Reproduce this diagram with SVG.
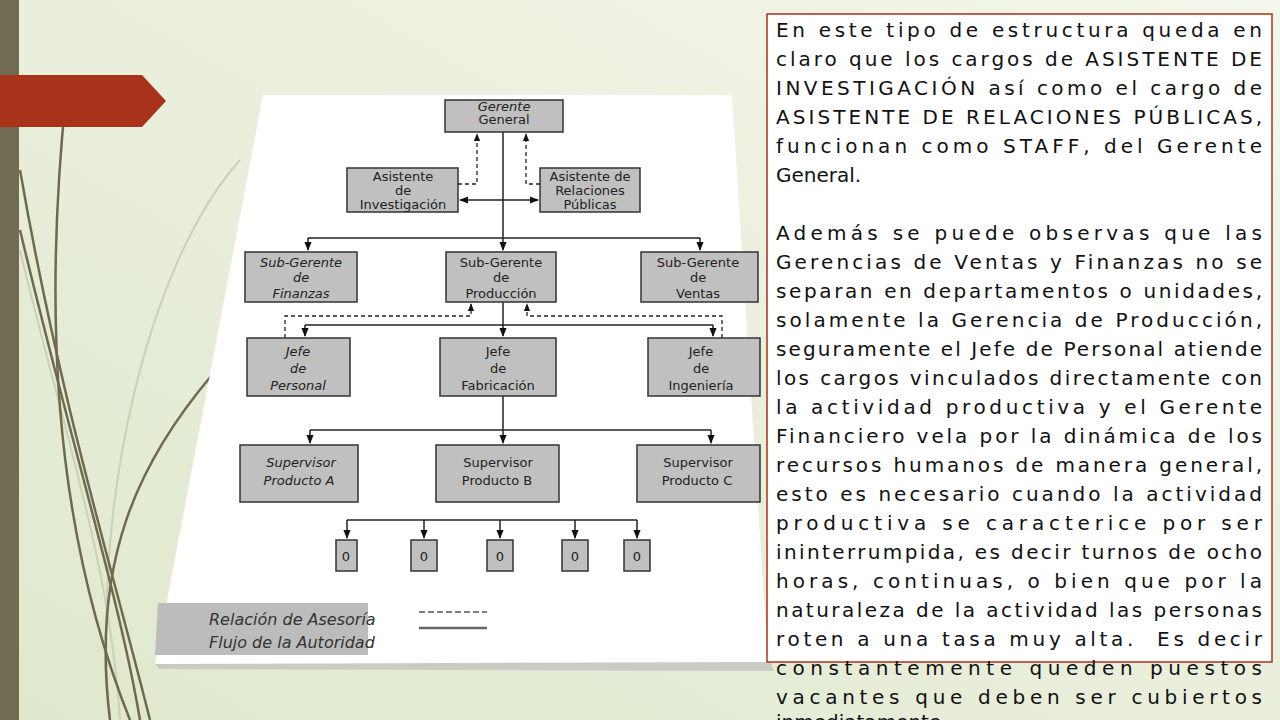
<svg xmlns="http://www.w3.org/2000/svg" width="1280" height="720" viewBox="0 0 1280 720">
<defs>
<linearGradient id="bg" x1="0" y1="1" x2="1" y2="0">
<stop offset="0" stop-color="#dfe8cc"/><stop offset="1" stop-color="#f3f6ea"/>
</linearGradient>
<marker id="ah" viewBox="0 0 10 10" refX="9" refY="5" markerWidth="6" markerHeight="6" orient="auto-start-reverse"><path d="M0,1 L10,5 L0,9 Z" fill="#111"/></marker>
<style>
.n{fill:#c0c0c0;stroke:#333;stroke-width:1.5}
.t{font-family:"DejaVu Sans",sans-serif;font-size:13px;fill:#222;text-anchor:middle}
.i{font-style:italic}
.c{fill:none;stroke:#222;stroke-width:1.5}
.d{fill:none;stroke:#222;stroke-width:1.3;stroke-dasharray:4 3}
.p{font-family:"DejaVu Sans",sans-serif;font-size:20px;fill:#111}
.cv{fill:none;stroke:#6f6a4f;stroke-width:2.5}
.cl{fill:none;stroke:#c9d2b5;stroke-width:2}
</style>
</defs>
<rect width="1280" height="720" fill="url(#bg)"/>
<rect x="0" y="0" width="19" height="720" fill="#716b52"/>
<g id="curves">
<path class="cl" d="M20,250 C60,420 110,560 120,720"/>
<path class="cl" d="M240,160 C150,260 90,500 110,720"/>
<path class="cv" d="M66,95 C45,300 50,520 130,720"/>
<path class="cv" d="M20,170 C60,400 110,560 150,720"/>
<path class="cv" d="M20,230 C70,440 120,600 140,720"/>
<path class="cv" d="M212,375 C140,460 90,560 110,720"/>
</g>
<polygon points="0,75 142,75 166,101 142,127 0,127" fill="#a8321a"/>
<polygon points="159,669 774,671 770,660 155,663" fill="#b8b8b8" opacity="0.6"/>
<polygon points="263,95 732,95 768,662 155,664" fill="#ffffff"/>
<g id="connectors">
<path class="c" d="M503,132 V250" marker-end="url(#ah)"/>
<path class="c" d="M460,200 H538" marker-start="url(#ah)" marker-end="url(#ah)"/>
<path class="d" d="M458,184 H477 V134" marker-end="url(#ah)"/>
<path class="d" d="M540,184 H526 V134" marker-end="url(#ah)"/>
<path class="c" d="M308,238 H700"/>
<path class="c" d="M308,238 V250" marker-end="url(#ah)"/>
<path class="c" d="M700,238 V250" marker-end="url(#ah)"/>
<path class="c" d="M503,302 V336" marker-end="url(#ah)"/>
<path class="c" d="M305,325 H713"/>
<path class="c" d="M305,325 V336" marker-end="url(#ah)"/>
<path class="c" d="M713,325 V336" marker-end="url(#ah)"/>
<path class="d" d="M285,338 V316 H471 V304" marker-end="url(#ah)"/>
<path class="d" d="M722,338 V316 H527 V304" marker-end="url(#ah)"/>
<path class="c" d="M503,396 V443" marker-end="url(#ah)"/>
<path class="c" d="M310,430 H711"/>
<path class="c" d="M310,430 V443" marker-end="url(#ah)"/>
<path class="c" d="M711,430 V443" marker-end="url(#ah)"/>
<path class="c" d="M347,520 H637"/>
<path class="c" d="M347,520 V538" marker-end="url(#ah)"/>
<path class="c" d="M424,520 V538" marker-end="url(#ah)"/>
<path class="c" d="M500,520 V538" marker-end="url(#ah)"/>
<path class="c" d="M575,520 V538" marker-end="url(#ah)"/>
<path class="c" d="M637,520 V538" marker-end="url(#ah)"/>
</g>
<g id="gerente"><rect class="n" x="445" y="100" width="118" height="32"/><text class="t i" x="504" y="111" font-size="10">Gerente</text><text class="t" x="504" y="124" font-size="11.5">General</text></g>
<g id="asist-inv"><rect class="n" x="347" y="168" width="111" height="44"/><text class="t" x="403" y="181" font-size="11.5">Asistente</text><text class="t" x="403" y="195" font-size="11.5">de</text><text class="t" x="403" y="209" font-size="11.5">Investigación</text></g>
<g id="asist-rp"><rect class="n" x="540" y="168" width="100" height="44"/><text class="t" x="590" y="181" font-size="11.5">Asistente de</text><text class="t" x="590" y="195" font-size="11.5">Relaciones</text><text class="t" x="590" y="209" font-size="11.5">Públicas</text></g>
<g id="sg-fin"><rect class="n" x="245" y="252" width="112" height="50"/><text class="t i" x="301" y="267">Sub-Gerente</text><text class="t i" x="301" y="282">de</text><text class="t i" x="301" y="298">Finanzas</text></g>
<g id="sg-prod"><rect class="n" x="446" y="252" width="110" height="50"/><text class="t" x="501" y="267">Sub-Gerente</text><text class="t" x="501" y="282">de</text><text class="t" x="501" y="298">Producción</text></g>
<g id="sg-ven"><rect class="n" x="641" y="252" width="117" height="50"/><text class="t" x="698" y="267">Sub-Gerente</text><text class="t" x="698" y="282">de</text><text class="t" x="698" y="298">Ventas</text></g>
<g id="j-per"><rect class="n" x="247" y="338" width="103" height="58"/><text class="t i" x="298" y="356">Jefe</text><text class="t i" x="298" y="373">de</text><text class="t i" x="298" y="390">Personal</text></g>
<g id="j-fab"><rect class="n" x="440" y="338" width="116" height="58"/><text class="t" x="498" y="356">Jefe</text><text class="t" x="498" y="373">de</text><text class="t" x="498" y="390">Fabricación</text></g>
<g id="j-ing"><rect class="n" x="648" y="338" width="112" height="58"/><text class="t" x="701" y="356">Jefe</text><text class="t" x="701" y="373">de</text><text class="t" x="701" y="390">Ingeniería</text></g>
<g id="sup-a"><rect class="n" x="240" y="445" width="118" height="57"/><text class="t i" x="301" y="467" font-size="14">Supervisor</text><text class="t i" x="299" y="485" font-size="14">Producto A</text></g>
<g id="sup-b"><rect class="n" x="436" y="445" width="123" height="57"/><text class="t" x="498" y="467" font-size="14">Supervisor</text><text class="t" x="497" y="485" font-size="14">Producto B</text></g>
<g id="sup-c"><rect class="n" x="637" y="445" width="123" height="57"/><text class="t" x="698" y="467" font-size="14">Supervisor</text><text class="t" x="697" y="485" font-size="14">Producto C</text></g>
<g id="z1"><rect class="n" x="336" y="540" width="21" height="31"/><text class="t" x="346" y="561">0</text></g>
<g id="z2"><rect class="n" x="411" y="540" width="26" height="31"/><text class="t" x="424" y="561">0</text></g>
<g id="z3"><rect class="n" x="487" y="540" width="26" height="31"/><text class="t" x="500" y="561">0</text></g>
<g id="z4"><rect class="n" x="562" y="540" width="26" height="31"/><text class="t" x="575" y="561">0</text></g>
<g id="z5"><rect class="n" x="624" y="540" width="26" height="31"/><text class="t" x="637" y="561">0</text></g>
<g id="legend">
<rect x="198" y="603" width="170" height="52" fill="#bcbcbc"/>
<polygon points="158,603 198,603 198,655 155,655" fill="#bcbcbc"/>
<text x="209" y="625" font-family="DejaVu Sans,sans-serif" font-size="16" font-style="italic" fill="#333">Relación de Asesoría</text>
<text x="209" y="648" font-family="DejaVu Sans,sans-serif" font-size="16" font-style="italic" fill="#333">Flujo de la Autoridad</text>
<path d="M419,612 H487" stroke="#555" stroke-width="1.5" stroke-dasharray="6 3"/>
<path d="M419,628 H487" stroke="#666" stroke-width="2.5"/>
</g>
<g id="textbox">
<rect x="767" y="14" width="505" height="648" fill="#ffffff" stroke="#a8321a" stroke-width="1.5"/>
<g class="p">
<text x="776" y="37" textLength="486" lengthAdjust="spacing">En este tipo de estructura queda en</text>
<text x="776" y="66" textLength="486" lengthAdjust="spacing">claro que los cargos de ASISTENTE DE</text>
<text x="776" y="95" textLength="486" lengthAdjust="spacing">INVESTIGACIÓN así como el cargo de</text>
<text x="776" y="124" textLength="486" lengthAdjust="spacing">ASISTENTE DE RELACIONES PÚBLICAS,</text>
<text x="776" y="153" textLength="486" lengthAdjust="spacing">funcionan como STAFF, del Gerente</text>
<text x="776" y="182">General.</text>
<text x="776" y="240" textLength="486" lengthAdjust="spacing">Además se puede observas que las</text>
<text x="776" y="269" textLength="486" lengthAdjust="spacing">Gerencias de Ventas y Finanzas no se</text>
<text x="776" y="298" textLength="486" lengthAdjust="spacing">separan en departamentos o unidades,</text>
<text x="776" y="327" textLength="486" lengthAdjust="spacing">solamente la Gerencia de Producción,</text>
<text x="776" y="356" textLength="486" lengthAdjust="spacing">seguramente el Jefe de Personal atiende</text>
<text x="776" y="385" textLength="486" lengthAdjust="spacing">los cargos vinculados directamente con</text>
<text x="776" y="414" textLength="486" lengthAdjust="spacing">la actividad productiva y el Gerente</text>
<text x="776" y="443" textLength="486" lengthAdjust="spacing">Financiero vela por la dinámica de los</text>
<text x="776" y="472" textLength="486" lengthAdjust="spacing">recursos humanos de manera general,</text>
<text x="776" y="501" textLength="486" lengthAdjust="spacing">esto es necesario cuando la actividad</text>
<text x="776" y="530" textLength="486" lengthAdjust="spacing">productiva se caracterice por ser</text>
<text x="776" y="559" textLength="486" lengthAdjust="spacing">ininterrumpida, es decir turnos de ocho</text>
<text x="776" y="588" textLength="486" lengthAdjust="spacing">horas, continuas, o bien que por la</text>
<text x="776" y="617" textLength="486" lengthAdjust="spacing">naturaleza de la actividad las personas</text>
<text x="776" y="646" textLength="486" lengthAdjust="spacing" xml:space="preserve">roten a una tasa muy alta.  Es decir</text>
<text x="776" y="675" textLength="486" lengthAdjust="spacing">constantemente queden puestos</text>
<text x="776" y="704" textLength="486" lengthAdjust="spacing">vacantes que deben ser cubiertos</text>
<text x="776" y="729">inmediatamente.</text>
</g>
</g>
</svg>
